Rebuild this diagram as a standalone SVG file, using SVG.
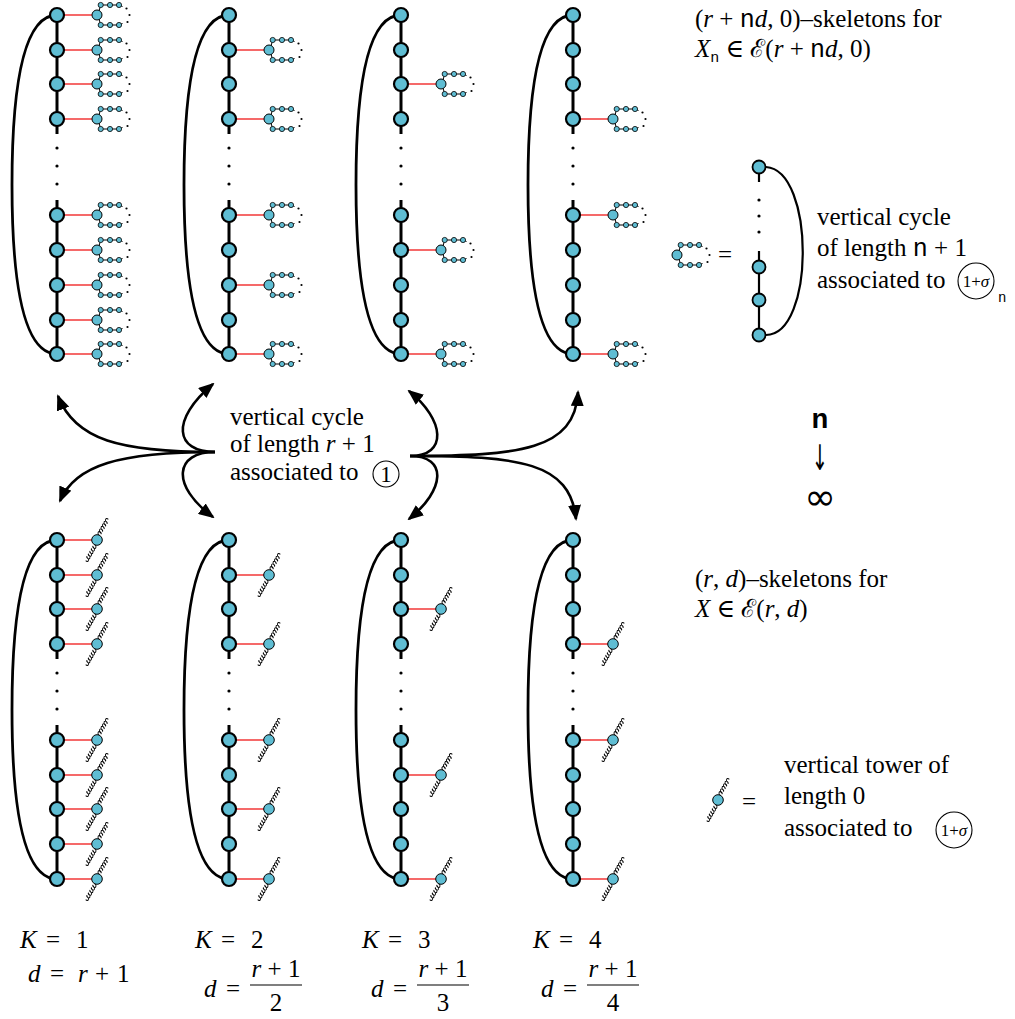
<svg xmlns="http://www.w3.org/2000/svg" xmlns:xlink="http://www.w3.org/1999/xlink" width="1015" height="1019" viewBox="0 0 1015 1019">
<style>
.arc{fill:none;stroke:#000;stroke-width:2.8}
.sp{stroke:#000;stroke-width:3}
.red{stroke:#f01818;stroke-width:1.3}
.n{fill:#5fbdd3;stroke:#000;stroke-width:2.2}
.gn{fill:#5fbdd3;stroke:#000;stroke-width:1}
.sn{fill:#5fbdd3;stroke:#000;stroke-width:0.8}
.gl{fill:none;stroke:#000;stroke-width:1}
.coil{fill:none;stroke:#000;stroke-width:0.9}
.dot{fill:#000}
.arr{fill:none;stroke:#000;stroke-width:2.6}
</style>
<defs>
<marker id="ah" viewBox="0 0 16 13" refX="14" refY="6.5" markerWidth="16" markerHeight="13" markerUnits="userSpaceOnUse" orient="auto">
<path d="M0,0 L16,6.5 L0,13 z" fill="#000"/>
</marker>
<g id="cyc">
<path class="gl" d="M2,-4 L3.7,-10 L22,-10 L25.5,-8.5 M2,4 L3.7,10 L22,10 L25.5,8.5"/>
<circle class="gn" r="5"/>
<circle class="sn" cx="3.7" cy="-10" r="2.6"/><circle class="sn" cx="13" cy="-10" r="2.6"/><circle class="sn" cx="22" cy="-10" r="2.6"/>
<circle class="sn" cx="3.7" cy="10" r="2.6"/><circle class="sn" cx="13" cy="10" r="2.6"/><circle class="sn" cx="22" cy="10" r="2.6"/>
<circle class="dot" cx="29.5" cy="-6.5" r="1.1"/><circle class="dot" cx="32.5" cy="0" r="1.1"/><circle class="dot" cx="30.5" cy="7" r="1.1"/>
</g>
<path id="cl" class="coil" d="M5,0 c0.5,-3.8 4.5,-3.8 3.5,-0.5 c-0.5,1.3 -2,1.3 -0.5,0.5 c0.5,-3.8 4.5,-3.8 3.5,-0.5 c-0.5,1.3 -2,1.3 -0.5,0.5 c0.5,-3.8 4.5,-3.8 3.5,-0.5 c-0.5,1.3 -2,1.3 -0.5,0.5 c0.5,-3.8 4.5,-3.8 3.5,-0.5 c-0.5,1.3 -2,1.3 -0.5,0.5 c0.5,-3.8 4.5,-3.8 3.5,-0.5 c-0.5,1.3 -2,1.3 -0.5,0.5 c0.5,-3.8 4.5,-3.8 3.5,-0.5"/>
<g id="twr">
<use xlink:href="#cl" href="#cl" transform="rotate(-60)"/>
<use xlink:href="#cl" href="#cl" transform="rotate(120)"/>
<circle class="gn" r="5.3"/>
</g>
</defs>

<!-- TOP PANEL -->
<g id="top-col1">
<path class="arc" d="M57,15 C25,15 12,80 12,185 C12,290 25,354 57,354"/>
<line class="sp" x1="57" y1="15" x2="57" y2="134"/><line class="sp" x1="57" y1="200" x2="57" y2="354"/>
<circle class="dot" cx="57" cy="148" r="1.6"/><circle class="dot" cx="57" cy="166" r="1.6"/><circle class="dot" cx="57" cy="184" r="1.6"/>
<line class="red" x1="64" y1="15" x2="92" y2="15"/><line class="red" x1="64" y1="50" x2="92" y2="50"/><line class="red" x1="64" y1="84" x2="92" y2="84"/><line class="red" x1="64" y1="119" x2="92" y2="119"/><line class="red" x1="64" y1="215" x2="92" y2="215"/><line class="red" x1="64" y1="250" x2="92" y2="250"/><line class="red" x1="64" y1="285" x2="92" y2="285"/><line class="red" x1="64" y1="320" x2="92" y2="320"/><line class="red" x1="64" y1="354" x2="92" y2="354"/>
<use href="#cyc" xlink:href="#cyc" x="97" y="15"/><use href="#cyc" xlink:href="#cyc" x="97" y="50"/><use href="#cyc" xlink:href="#cyc" x="97" y="84"/><use href="#cyc" xlink:href="#cyc" x="97" y="119"/><use href="#cyc" xlink:href="#cyc" x="97" y="215"/><use href="#cyc" xlink:href="#cyc" x="97" y="250"/><use href="#cyc" xlink:href="#cyc" x="97" y="285"/><use href="#cyc" xlink:href="#cyc" x="97" y="320"/><use href="#cyc" xlink:href="#cyc" x="97" y="354"/>
<circle class="n" cx="57" cy="15" r="7"/><circle class="n" cx="57" cy="50" r="7"/><circle class="n" cx="57" cy="84" r="7"/><circle class="n" cx="57" cy="119" r="7"/><circle class="n" cx="57" cy="215" r="7"/><circle class="n" cx="57" cy="250" r="7"/><circle class="n" cx="57" cy="285" r="7"/><circle class="n" cx="57" cy="320" r="7"/><circle class="n" cx="57" cy="354" r="7"/>
</g>
<g id="top-col2">
<path class="arc" d="M229,15 C197,15 184,80 184,185 C184,290 197,354 229,354"/>
<line class="sp" x1="229" y1="15" x2="229" y2="134"/><line class="sp" x1="229" y1="200" x2="229" y2="354"/>
<circle class="dot" cx="229" cy="148" r="1.6"/><circle class="dot" cx="229" cy="166" r="1.6"/><circle class="dot" cx="229" cy="184" r="1.6"/>
<line class="red" x1="236" y1="50" x2="264" y2="50"/><line class="red" x1="236" y1="119" x2="264" y2="119"/><line class="red" x1="236" y1="215" x2="264" y2="215"/><line class="red" x1="236" y1="285" x2="264" y2="285"/><line class="red" x1="236" y1="354" x2="264" y2="354"/>
<use href="#cyc" xlink:href="#cyc" x="269" y="50"/><use href="#cyc" xlink:href="#cyc" x="269" y="119"/><use href="#cyc" xlink:href="#cyc" x="269" y="215"/><use href="#cyc" xlink:href="#cyc" x="269" y="285"/><use href="#cyc" xlink:href="#cyc" x="269" y="354"/>
<circle class="n" cx="229" cy="15" r="7"/><circle class="n" cx="229" cy="50" r="7"/><circle class="n" cx="229" cy="84" r="7"/><circle class="n" cx="229" cy="119" r="7"/><circle class="n" cx="229" cy="215" r="7"/><circle class="n" cx="229" cy="250" r="7"/><circle class="n" cx="229" cy="285" r="7"/><circle class="n" cx="229" cy="320" r="7"/><circle class="n" cx="229" cy="354" r="7"/>
</g>
<g id="top-col3">
<path class="arc" d="M401,15 C369,15 356,80 356,185 C356,290 369,354 401,354"/>
<line class="sp" x1="401" y1="15" x2="401" y2="134"/><line class="sp" x1="401" y1="200" x2="401" y2="354"/>
<circle class="dot" cx="401" cy="148" r="1.6"/><circle class="dot" cx="401" cy="166" r="1.6"/><circle class="dot" cx="401" cy="184" r="1.6"/>
<line class="red" x1="408" y1="84" x2="436" y2="84"/><line class="red" x1="408" y1="250" x2="436" y2="250"/><line class="red" x1="408" y1="354" x2="436" y2="354"/>
<use href="#cyc" xlink:href="#cyc" x="441" y="84"/><use href="#cyc" xlink:href="#cyc" x="441" y="250"/><use href="#cyc" xlink:href="#cyc" x="441" y="354"/>
<circle class="n" cx="401" cy="15" r="7"/><circle class="n" cx="401" cy="50" r="7"/><circle class="n" cx="401" cy="84" r="7"/><circle class="n" cx="401" cy="119" r="7"/><circle class="n" cx="401" cy="215" r="7"/><circle class="n" cx="401" cy="250" r="7"/><circle class="n" cx="401" cy="285" r="7"/><circle class="n" cx="401" cy="320" r="7"/><circle class="n" cx="401" cy="354" r="7"/>
</g>
<g id="top-col4">
<path class="arc" d="M573,15 C541,15 528,80 528,185 C528,290 541,354 573,354"/>
<line class="sp" x1="573" y1="15" x2="573" y2="134"/><line class="sp" x1="573" y1="200" x2="573" y2="354"/>
<circle class="dot" cx="573" cy="148" r="1.6"/><circle class="dot" cx="573" cy="166" r="1.6"/><circle class="dot" cx="573" cy="184" r="1.6"/>
<line class="red" x1="580" y1="119" x2="608" y2="119"/><line class="red" x1="580" y1="215" x2="608" y2="215"/><line class="red" x1="580" y1="354" x2="608" y2="354"/>
<use href="#cyc" xlink:href="#cyc" x="613" y="119"/><use href="#cyc" xlink:href="#cyc" x="613" y="215"/><use href="#cyc" xlink:href="#cyc" x="613" y="354"/>
<circle class="n" cx="573" cy="15" r="7"/><circle class="n" cx="573" cy="50" r="7"/><circle class="n" cx="573" cy="84" r="7"/><circle class="n" cx="573" cy="119" r="7"/><circle class="n" cx="573" cy="215" r="7"/><circle class="n" cx="573" cy="250" r="7"/><circle class="n" cx="573" cy="285" r="7"/><circle class="n" cx="573" cy="320" r="7"/><circle class="n" cx="573" cy="354" r="7"/>
</g>

<!-- BOTTOM PANEL -->
<g id="bot-col1">
<path class="arc" d="M57,540 C25,540 12,605 12,710 C12,815 25,879 57,879"/>
<line class="sp" x1="57" y1="540" x2="57" y2="659"/><line class="sp" x1="57" y1="725" x2="57" y2="879"/>
<circle class="dot" cx="57" cy="673" r="1.6"/><circle class="dot" cx="57" cy="691" r="1.6"/><circle class="dot" cx="57" cy="709" r="1.6"/>
<line class="red" x1="64" y1="540" x2="92" y2="540"/><line class="red" x1="64" y1="575" x2="92" y2="575"/><line class="red" x1="64" y1="609" x2="92" y2="609"/><line class="red" x1="64" y1="644" x2="92" y2="644"/><line class="red" x1="64" y1="740" x2="92" y2="740"/><line class="red" x1="64" y1="775" x2="92" y2="775"/><line class="red" x1="64" y1="809" x2="92" y2="809"/><line class="red" x1="64" y1="844" x2="92" y2="844"/><line class="red" x1="64" y1="879" x2="92" y2="879"/>
<use href="#twr" xlink:href="#twr" x="97" y="540"/><use href="#twr" xlink:href="#twr" x="97" y="575"/><use href="#twr" xlink:href="#twr" x="97" y="609"/><use href="#twr" xlink:href="#twr" x="97" y="644"/><use href="#twr" xlink:href="#twr" x="97" y="740"/><use href="#twr" xlink:href="#twr" x="97" y="775"/><use href="#twr" xlink:href="#twr" x="97" y="809"/><use href="#twr" xlink:href="#twr" x="97" y="844"/><use href="#twr" xlink:href="#twr" x="97" y="879"/>
<circle class="n" cx="57" cy="540" r="7"/><circle class="n" cx="57" cy="575" r="7"/><circle class="n" cx="57" cy="609" r="7"/><circle class="n" cx="57" cy="644" r="7"/><circle class="n" cx="57" cy="740" r="7"/><circle class="n" cx="57" cy="775" r="7"/><circle class="n" cx="57" cy="809" r="7"/><circle class="n" cx="57" cy="844" r="7"/><circle class="n" cx="57" cy="879" r="7"/>
</g>
<g id="bot-col2">
<path class="arc" d="M229,540 C197,540 184,605 184,710 C184,815 197,879 229,879"/>
<line class="sp" x1="229" y1="540" x2="229" y2="659"/><line class="sp" x1="229" y1="725" x2="229" y2="879"/>
<circle class="dot" cx="229" cy="673" r="1.6"/><circle class="dot" cx="229" cy="691" r="1.6"/><circle class="dot" cx="229" cy="709" r="1.6"/>
<line class="red" x1="236" y1="575" x2="264" y2="575"/><line class="red" x1="236" y1="644" x2="264" y2="644"/><line class="red" x1="236" y1="740" x2="264" y2="740"/><line class="red" x1="236" y1="809" x2="264" y2="809"/><line class="red" x1="236" y1="879" x2="264" y2="879"/>
<use href="#twr" xlink:href="#twr" x="269" y="575"/><use href="#twr" xlink:href="#twr" x="269" y="644"/><use href="#twr" xlink:href="#twr" x="269" y="740"/><use href="#twr" xlink:href="#twr" x="269" y="809"/><use href="#twr" xlink:href="#twr" x="269" y="879"/>
<circle class="n" cx="229" cy="540" r="7"/><circle class="n" cx="229" cy="575" r="7"/><circle class="n" cx="229" cy="609" r="7"/><circle class="n" cx="229" cy="644" r="7"/><circle class="n" cx="229" cy="740" r="7"/><circle class="n" cx="229" cy="775" r="7"/><circle class="n" cx="229" cy="809" r="7"/><circle class="n" cx="229" cy="844" r="7"/><circle class="n" cx="229" cy="879" r="7"/>
</g>
<g id="bot-col3">
<path class="arc" d="M401,540 C369,540 356,605 356,710 C356,815 369,879 401,879"/>
<line class="sp" x1="401" y1="540" x2="401" y2="659"/><line class="sp" x1="401" y1="725" x2="401" y2="879"/>
<circle class="dot" cx="401" cy="673" r="1.6"/><circle class="dot" cx="401" cy="691" r="1.6"/><circle class="dot" cx="401" cy="709" r="1.6"/>
<line class="red" x1="408" y1="609" x2="436" y2="609"/><line class="red" x1="408" y1="775" x2="436" y2="775"/><line class="red" x1="408" y1="879" x2="436" y2="879"/>
<use href="#twr" xlink:href="#twr" x="441" y="609"/><use href="#twr" xlink:href="#twr" x="441" y="775"/><use href="#twr" xlink:href="#twr" x="441" y="879"/>
<circle class="n" cx="401" cy="540" r="7"/><circle class="n" cx="401" cy="575" r="7"/><circle class="n" cx="401" cy="609" r="7"/><circle class="n" cx="401" cy="644" r="7"/><circle class="n" cx="401" cy="740" r="7"/><circle class="n" cx="401" cy="775" r="7"/><circle class="n" cx="401" cy="809" r="7"/><circle class="n" cx="401" cy="844" r="7"/><circle class="n" cx="401" cy="879" r="7"/>
</g>
<g id="bot-col4">
<path class="arc" d="M573,540 C541,540 528,605 528,710 C528,815 541,879 573,879"/>
<line class="sp" x1="573" y1="540" x2="573" y2="659"/><line class="sp" x1="573" y1="725" x2="573" y2="879"/>
<circle class="dot" cx="573" cy="673" r="1.6"/><circle class="dot" cx="573" cy="691" r="1.6"/><circle class="dot" cx="573" cy="709" r="1.6"/>
<line class="red" x1="580" y1="644" x2="608" y2="644"/><line class="red" x1="580" y1="740" x2="608" y2="740"/><line class="red" x1="580" y1="879" x2="608" y2="879"/>
<use href="#twr" xlink:href="#twr" x="613" y="644"/><use href="#twr" xlink:href="#twr" x="613" y="740"/><use href="#twr" xlink:href="#twr" x="613" y="879"/>
<circle class="n" cx="573" cy="540" r="7"/><circle class="n" cx="573" cy="575" r="7"/><circle class="n" cx="573" cy="609" r="7"/><circle class="n" cx="573" cy="644" r="7"/><circle class="n" cx="573" cy="740" r="7"/><circle class="n" cx="573" cy="775" r="7"/><circle class="n" cx="573" cy="809" r="7"/><circle class="n" cx="573" cy="844" r="7"/><circle class="n" cx="573" cy="879" r="7"/>
</g>

<!-- CONNECTORS -->
<g id="connectors">
<path class="arr" marker-end="url(#ah)" d="M215,452 C120,452 75,440 58,396"/>
<path class="arr" marker-end="url(#ah)" d="M215,452 C120,452 75,465 60,501"/>
<path class="arr" marker-end="url(#ah)" d="M215,452 C175,452 170,420 213,384"/>
<path class="arr" marker-end="url(#ah)" d="M215,452 C175,452 170,485 213,517"/>
<path class="arr" marker-end="url(#ah)" d="M410,456 C448,456 445,420 409,391"/>
<path class="arr" marker-end="url(#ah)" d="M410,456 C448,456 445,490 409,519"/>
<path class="arr" marker-end="url(#ah)" d="M410,456 C520,456 575,450 578,392"/>
<path class="arr" marker-end="url(#ah)" d="M410,456 C520,456 570,462 576,519"/>
</g>

<g font-family="Liberation Serif, DejaVu Serif, serif" font-size="25" fill="#000">
<!-- CENTER LABEL -->
<g id="center-label">
<text x="230" y="425">vertical cycle</text>
<text x="230" y="452">of length <tspan font-style="italic">r</tspan> + 1</text>
<text x="230" y="480">associated to</text>
<circle cx="386" cy="474" r="13" fill="none" stroke="#000" stroke-width="1.1"/>
<text x="386" y="482" text-anchor="middle" font-size="23">1</text>
</g>

<!-- RIGHT TEXTS -->
<g id="top-title">
<text x="695" y="27">(<tspan font-style="italic">r</tspan> + <tspan font-family="Liberation Mono, DejaVu Sans Mono, monospace">n</tspan><tspan font-style="italic">d</tspan>, 0)–skeletons for</text>
<text x="695" y="57"><tspan font-style="italic">X</tspan><tspan font-family="Liberation Mono, DejaVu Sans Mono, monospace" font-size="15" dy="5">n</tspan><tspan dy="-5"> ∈ </tspan><tspan font-family="DejaVu Serif, serif">ℰ</tspan>(<tspan font-style="italic">r</tspan> + <tspan font-family="Liberation Mono, DejaVu Sans Mono, monospace">n</tspan><tspan font-style="italic">d</tspan>, 0)</text>
</g>

<g id="legend-cycle">
<use href="#cyc" xlink:href="#cyc" x="677" y="255"/>
<text x="718" y="263">=</text>
<path class="arc" style="stroke-width:2.2" d="M766,167 C815,170 815,335 766,335"/>
<line class="sp" style="stroke-width:2.2" x1="759" y1="167" x2="759" y2="182"/>
<line class="sp" style="stroke-width:2.2" x1="759" y1="251" x2="759" y2="335"/>
<circle class="dot" cx="759" cy="200" r="1.6"/><circle class="dot" cx="759" cy="216" r="1.6"/><circle class="dot" cx="759" cy="232" r="1.6"/>
<circle class="n" cx="759" cy="167" r="6.5" style="stroke-width:1.8"/>
<circle class="n" cx="759" cy="267" r="6.5" style="stroke-width:1.8"/>
<circle class="n" cx="759" cy="300" r="6.5" style="stroke-width:1.8"/>
<circle class="n" cx="759" cy="335" r="6.5" style="stroke-width:1.8"/>
<text x="817" y="225">vertical cycle</text>
<text x="817" y="256">of length <tspan font-family="Liberation Mono, DejaVu Sans Mono, monospace">n</tspan> + 1</text>
<text x="817" y="288">associated to</text>
<circle cx="976" cy="281" r="18" fill="none" stroke="#000" stroke-width="1.1"/>
<text x="976" y="287" text-anchor="middle" font-size="17">1+<tspan font-style="italic">σ</tspan></text>
<text x="998" y="302" font-family="Liberation Mono, DejaVu Sans Mono, monospace" font-size="14">n</text>
</g>

<g id="limit">
<text x="820" y="428" text-anchor="middle" font-family="Liberation Mono, DejaVu Sans Mono, monospace" font-size="28" font-weight="bold">n</text>
<text transform="translate(820,470) scale(0.75,1.35)" text-anchor="middle" font-family="DejaVu Sans, sans-serif" font-size="26">↓</text>
<text x="820" y="510" text-anchor="middle" font-family="DejaVu Sans, sans-serif" font-size="38">∞</text>
</g>

<g id="bottom-title">
<text x="695" y="587">(<tspan font-style="italic">r</tspan>, <tspan font-style="italic">d</tspan>)–skeletons for</text>
<text x="695" y="617"><tspan font-style="italic">X</tspan> ∈ <tspan font-family="DejaVu Serif, serif">ℰ</tspan>(<tspan font-style="italic">r</tspan>, <tspan font-style="italic">d</tspan>)</text>
</g>

<g id="legend-tower">
<use href="#twr" xlink:href="#twr" x="718" y="800"/>
<text x="742" y="810">=</text>
<text x="784" y="773">vertical tower of</text>
<text x="784" y="804">length 0</text>
<text x="784" y="836">associated to</text>
<circle cx="954" cy="830" r="18" fill="none" stroke="#000" stroke-width="1.1"/>
<text x="954" y="836" text-anchor="middle" font-size="17">1+<tspan font-style="italic">σ</tspan></text>
</g>

<!-- BOTTOM LABELS -->
<g id="labels">
<text x="20" y="948"><tspan font-style="italic">K</tspan><tspan x="46">=</tspan><tspan x="76">1</tspan></text>
<text x="28" y="982"><tspan font-style="italic">d</tspan><tspan x="50">=</tspan><tspan x="78" font-style="italic">r</tspan><tspan x="95">+</tspan><tspan x="117">1</tspan></text>
<text x="195" y="948"><tspan font-style="italic">K</tspan><tspan x="221">=</tspan><tspan x="251">2</tspan></text>
<text x="204" y="997"><tspan font-style="italic">d</tspan><tspan x="226">=</tspan></text>
<text x="276" y="977" text-anchor="middle"><tspan font-style="italic">r</tspan> + 1</text>
<line x1="250" y1="985" x2="302" y2="985" stroke="#000" stroke-width="1.2"/>
<text x="276" y="1011" text-anchor="middle">2</text>
<text x="362" y="948"><tspan font-style="italic">K</tspan><tspan x="388">=</tspan><tspan x="418">3</tspan></text>
<text x="371" y="997"><tspan font-style="italic">d</tspan><tspan x="393">=</tspan></text>
<text x="443" y="977" text-anchor="middle"><tspan font-style="italic">r</tspan> + 1</text>
<line x1="417" y1="985" x2="469" y2="985" stroke="#000" stroke-width="1.2"/>
<text x="443" y="1011" text-anchor="middle">3</text>
<text x="533" y="948"><tspan font-style="italic">K</tspan><tspan x="559">=</tspan><tspan x="589">4</tspan></text>
<text x="541" y="997"><tspan font-style="italic">d</tspan><tspan x="563">=</tspan></text>
<text x="613" y="977" text-anchor="middle"><tspan font-style="italic">r</tspan> + 1</text>
<line x1="587" y1="985" x2="639" y2="985" stroke="#000" stroke-width="1.2"/>
<text x="613" y="1011" text-anchor="middle">4</text>
</g>
</g>
</svg>
